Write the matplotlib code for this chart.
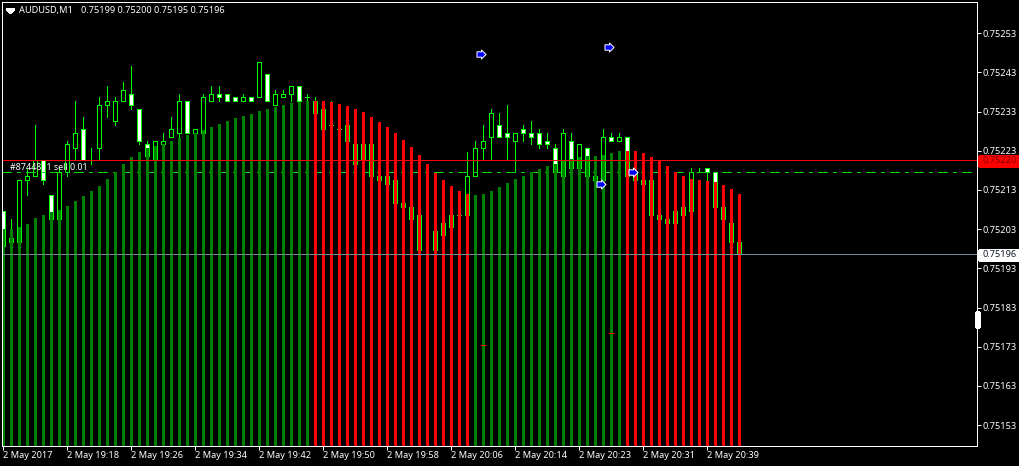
import matplotlib
matplotlib.use('Agg')
import matplotlib.pyplot as plt
import numpy as np
from matplotlib.patches import Rectangle, Polygon
from matplotlib.path import Path
from matplotlib.transforms import IdentityTransform

# prices are in points above 0.75000
opens = [207, 199, 199, 215, 216, 220, 211, 205, 217, 223, 228, 220, 223, 234, 230, 235,
         237, 233, 224, 220, 224, 226, 227, 235, 227, 227, 235, 237, 237, 236, 235, 236,
         236, 242, 234, 236, 237, 239, 236, 232, 228, 229, 228, 225, 224, 224, 224, 216,
         216, 215, 209, 208, 206, 196, 202, 204, 206, 206, 206, 216, 223, 226, 229, 227,
         225, 228, 227, 227, 225, 223, 216, 225, 218, 223, 215, 215, 226, 225, 226, 215,
         215, 215, 206, 205, 207, 208, 207, 217, 218, 217, 208, 204, 199]
closes = [198, 200, 215, 216, 220, 215, 205, 217, 224, 227, 220, 220, 234, 235, 235, 238,
          234, 225, 221, 225, 225, 228, 235, 227, 228, 236, 237, 236, 235, 235, 236, 235,
          245, 235, 237, 237, 239, 235, 236, 235, 233, 229, 228, 229, 219, 220, 216, 215,
          214, 209, 208, 205, 197, 196, 197, 201, 203, 206, 216, 223, 225, 232, 226, 226,
          227, 227, 226, 224, 224, 217, 227, 218, 224, 216, 216, 226, 225, 226, 216, 217,
          214, 206, 205, 204, 204, 206, 217, 217, 217, 208, 205, 199, 196]
highs = [207, 205, 215, 218, 229, 220, 211, 218, 225, 235, 231, 223, 236, 239, 236, 240,
         244, 233, 225, 225, 227, 231, 237, 235, 228, 237, 239, 239, 237, 236, 237, 236,
         245, 242, 238, 238, 239, 239, 237, 236, 233, 235, 228, 229, 224, 224, 224, 216,
         216, 215, 209, 208, 206, 196, 202, 204, 206, 206, 222, 225, 229, 233, 232, 234,
         227, 229, 230, 228, 227, 224, 228, 227, 224, 223, 216, 228, 227, 227, 226, 217,
         215, 215, 206, 205, 207, 208, 218, 218, 218, 217, 208, 204, 200]
lows = [198, 199, 199, 211, 216, 214, 205, 205, 216, 220, 220, 219, 220, 231, 229, 235,
        233, 224, 221, 220, 224, 226, 226, 227, 227, 227, 235, 235, 235, 235, 235, 235,
        236, 235, 234, 236, 235, 235, 235, 232, 228, 229, 228, 225, 219, 220, 216, 215,
        214, 209, 208, 205, 197, 195, 197, 201, 203, 206, 206, 216, 220, 220, 226, 220,
        217, 225, 224, 223, 223, 217, 216, 218, 218, 216, 215, 215, 225, 225, 216, 215,
        214, 206, 205, 204, 204, 206, 207, 217, 215, 208, 205, 199, 195]

# indicator height per bar, and where the colour changes
hist = [202.3, 202.3, 202.9, 203.8, 205.1, 206.1, 206.8, 207.3, 208.4, 209.6, 210.9, 212.2,
        213.5, 215.2, 217.0, 219.1, 220.9, 222.1, 223.2, 223.7, 224.1, 224.9, 225.7, 226.5,
        227.0, 227.8, 228.5, 229.3, 230.0, 230.8, 231.3, 231.8, 232.6, 233.1, 233.6, 234.1,
        234.6, 234.9, 235.1, 235.1, 235.2, 234.9, 234.4, 233.9, 233.1, 232.3, 231.1, 229.8,
        228.5, 227.0, 225.2, 223.4, 221.4, 219.1, 216.8, 215.0, 213.5, 212.2, 211.4, 211.2,
        211.4, 212.2, 213.2, 214.2, 215.2, 216.0, 217.0, 217.8, 218.6, 219.1, 219.9, 220.4,
        220.9, 221.1, 221.1, 221.4, 221.9, 222.4, 222.4, 222.4, 221.9, 220.9, 219.8, 218.6,
        217.0, 216.0, 215.2, 215.0, 214.7, 214.5, 213.7, 212.7, 211.4]
red_ranges = [(39, 58), (78, 92)]

order_price = 220
take_price = 217
bid_price = 196
order_text = '#8744811 sell 0.01'

arrow_x = [59.65, 75.7, 74.65, 78.65]
arrow_y = [247.1, 248.9, 214.0, 217.0]
mark_x = [60, 76]
mark_y = [172.8, 175.8]

ytick_vals = [253, 243, 233, 223, 213, 203, 193, 183, 173, 163, 153]
ytick_labels = ['0.75253', '0.75243', '0.75233', '0.75223', '0.75213', '0.75203',
                '0.75193', '0.75183', '0.75173', '0.75163', '0.75153']
xtick_pos = [0, 8, 16, 24, 32, 40, 48, 56, 64, 72, 80, 88]
xtick_labels = ['2 May 2017', '2 May 19:18', '2 May 19:26', '2 May 19:34', '2 May 19:42',
                '2 May 19:50', '2 May 19:58', '2 May 20:06', '2 May 20:14', '2 May 20:23',
                '2 May 20:31', '2 May 20:39']


def price(v):
    return 0.75 + np.asarray(v, dtype=float) * 1e-5


plt.rcParams['font.family'] = ['Noto Sans', 'DejaVu Sans']
plt.rcParams['lines.scale_dashes'] = False
plt.rcParams['lines.antialiased'] = False
plt.rcParams['patch.antialiased'] = False

LIME = '#00ff00'
FS = 6.6
TXT = 'white'

fig = plt.figure(figsize=(10.2, 4.66), dpi=100, facecolor='black')
ax = fig.add_axes([2.5 / 1020, 20.5 / 466, 975 / 1020, 444 / 466], facecolor='black')
ax.set_xlim(-0.125, 121.75)
ax.set_ylim(price(147.14), price(260.49))
bottom = price(147.14)

idx = np.arange(len(opens))
o, h, l, c = price(opens), price(highs), price(lows), price(closes)

# candles
ax.vlines(idx, l, h, color=LIME, lw=0.72, zorder=2)
tops = np.maximum(o, c)
bots = np.minimum(o, c)
fills = ['white' if c[i] < o[i] else 'black' for i in idx]
ax.bar(idx, tops - bots, 0.5, bottom=bots, color=fills, edgecolor=LIME, linewidth=0.72, zorder=2)

# order line and its label sit under the histogram
ax.axhline(price(take_price), color='#00dd00', lw=0.72, ls=(0, (6.62, 3.74, 2.3, 3.74)), zorder=3)
ax.text(0.8, price(order_price - 1.8), order_text, color=TXT, fontsize=6.4, va='center', ha='left', zorder=3)

hist_colors = ['#008000'] * len(hist)
for a, b in red_ranges:
    for i in range(a, b + 1):
        hist_colors[i] = '#ff0000'
hist_top = price(hist)
ax.bar(idx, hist_top - bottom, 3 / 8, bottom=bottom, color=hist_colors, linewidth=0, zorder=4)

ax.axhline(price(order_price), color='#ff0000', lw=0.72, zorder=5)
ax.axhline(price(bid_price), color='#778899', lw=0.72, zorder=5)

# trade marks
arrow = Path([(-1, -.6), (0, -.6), (0, -1), (1, 0), (0, 1), (0, .6), (-1, .6), (-1, -.6)], closed=True)
ax.plot(arrow_x, price(arrow_y), ls='none', marker=arrow, ms=6.5, mfc='#0000ff', mec='white', mew=0.72, zorder=6)
ax.plot(mark_x, price(mark_y), ls='none', marker='_', ms=5, mec='#ff0000', mew=0.72, zorder=6)

for s in ax.spines.values():
    s.set_color('white')
    s.set_linewidth(0.72)
    s.set_zorder(7)

ax.yaxis.tick_right()
ax.set_yticks(price(np.array(ytick_vals) - 0.63), ytick_labels)
ax.set_xticks(xtick_pos, xtick_labels, ha='left')
ax.tick_params(axis='y', colors=TXT, length=2.9, width=0.72, pad=0.7, labelsize=FS, color='white')
ax.tick_params(axis='x', colors=TXT, length=2.9, width=0.72, pad=1.0, labelsize=FS, color='white')

px = IdentityTransform()
fig.add_artist(Polygon([(7, 466 - 9), (14, 466 - 9), (10.5, 466 - 13)], closed=True, color='white', transform=px))
fig.add_artist(Rectangle((976, 466 - 327), 3, 15, color='white', transform=px))
fig.add_artist(Rectangle((979, 466 - 166), 41, 10, color='#ff0000', transform=px))
fig.add_artist(Rectangle((979, 466 - 260), 41, 10, color='white', transform=px))
fig.text(983 / 1020, (466 - 160.5) / 466, '0.75220', color='#7a0000', fontsize=FS, va='center', ha='left')
fig.text(983 / 1020, (466 - 254.5) / 466, '0.75196', color='#101828', fontsize=FS, va='center', ha='left')
fig.text(19 / 1020, (466 - 10.5) / 466, 'AUDUSD,M1', color=TXT, fontsize=FS, va='center', ha='left')
fig.text(81 / 1020, (466 - 10.5) / 466, '0.75199 0.75200 0.75195 0.75196', color=TXT, fontsize=FS, va='center', ha='left')

fig.savefig('out.png', dpi=100, facecolor='black')
